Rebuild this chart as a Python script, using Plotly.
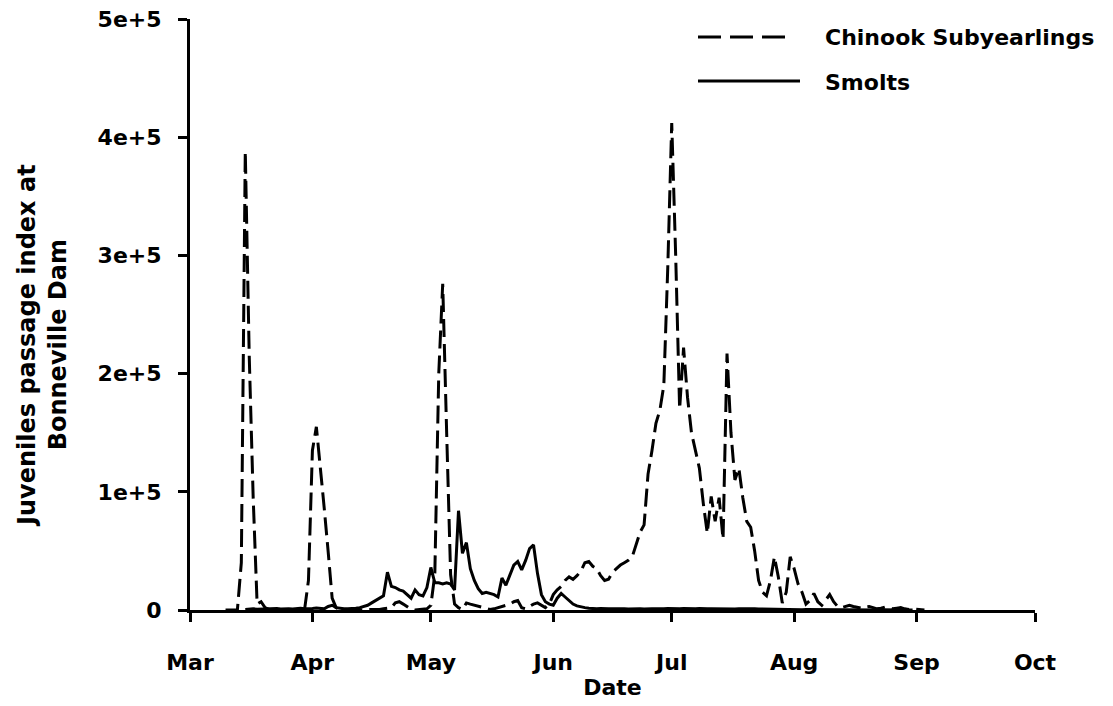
import pandas as pd
import plotly.graph_objects as go

# ---------------- data ----------------
month_ticks = ["2001-03-01", "2001-04-01", "2001-05-01", "2001-06-01",
               "2001-07-01", "2001-08-01", "2001-09-01", "2001-10-01"]
month_labels = ["Mar", "Apr", "May", "Jun", "Jul", "Aug", "Sep", "Oct"]
y_ticks = [0, 100000, 200000, 300000, 400000, 500000]
y_labels = ["0", "1e+5", "2e+5", "3e+5", "4e+5", "5e+5"]

chinook_start = "2001-03-10"
chinook = [
    # Mar 10 - Mar 31
    0, 0, 0, 0, 40000, 388000, 215000, 95000, 5000, 7000, 2000, 500,
    0, 300, 0, 500, 0, 0, 300, 0, 0, 25000,
    # Apr 1 - Apr 30
    135000, 155000, 122000, 86000, 49000, 10000, 2000, 500,
    0, 0, 300, 0, 0, 500, 0, 0, 300, 500, 1000, 1500,
    2000, 6000, 7000, 5000, 3000, 500, 0, 300, 500, 1000,
    # May 1 - May 31
    4000, 30000, 200000, 276000, 150000, 30000, 5000, 2000, 500, 6000,
    5000, 4000, 3000, 2000, 1000, 500, 1000, 2000, 3000, 4000,
    5000, 7000, 8000, 2000, 1000, 3000, 5000, 6000, 4000, 2000, 5000,
    # Jun 1 - Jun 30
    13000, 17000, 20000, 25000, 28000, 26000, 29000, 33000, 40000, 41000,
    37000, 35000, 29000, 25000, 26000, 32000, 35000, 38000, 40000, 42000,
    45000, 56000, 66000, 72000, 115000, 135000, 158000, 169000, 190000, 290000,
    # Jul 1 - Jul 31
    412000, 300000, 170000, 222000, 180000, 150000, 135000, 120000, 90000, 65000,
    96000, 75000, 95000, 60000, 217000, 150000, 110000, 120000, 95000, 75000,
    70000, 50000, 25000, 15000, 12000, 25000, 45000, 28000, 6000, 15000, 45000,
    # Aug 1 - Aug 31
    35000, 22000, 15000, 5000, 8000, 14000, 7000, 4000, 9000, 13000,
    7000, 3000, 2000, 3000, 4000, 3000, 2000, 1500, 2500, 3000,
    2000, 1000, 1500, 2500, 2000, 1000, 1500, 2000, 1000, 500, 1000,
    # Sep 1 - Sep 3
    500, 300, 0,
]

smolt_start = "2001-03-15"
smolts = [
    # Mar 15 - Apr 9
    500, 800, 1000, 700, 900, 1200, 800, 1000, 1300, 900, 1100, 1000, 800,
    1200, 1500, 1000, 900, 1300, 1600, 1200, 1000, 3000, 4000, 2000, 1200, 1000,
    # Apr 10 - Apr 30
    1000, 1000, 1500, 2000, 3000, 4000, 6000, 8000, 10000, 12000,
    32000, 20000, 19000, 17000, 16000, 13000, 10000, 17000, 13000, 12000, 19000,
    # May 1 - May 31
    36000, 23000, 23000, 22000, 23000, 22000, 17000, 84000, 48000, 57000,
    35000, 25000, 18000, 14000, 15000, 14000, 13000, 11000, 27000, 21000,
    30000, 38000, 41000, 34000, 42000, 52000, 55000, 31000, 13000, 7000, 5000,
    # Jun 1 - Jun 30
    4000, 10000, 14000, 11000, 8000, 5000, 3500, 2500, 2000, 1500,
    1200, 1000, 1300, 900, 1100, 1000, 800, 1200, 1000, 900,
    1100, 1300, 1000, 900, 1200, 1000, 1100, 800, 1000, 1200,
    # Jul 1 - Jul 31
    1000, 900, 1100, 1300, 1000, 800, 1000, 1200, 900, 1000,
    1100, 1000, 800, 900, 1200, 1000, 900, 1000, 1100, 800,
    900, 1000, 800, 700, 600, 500, 400, 500, 400, 300, 400,
    # Aug 1 - Aug 31
    300, 400, 300, 500, 400, 300, 400, 300, 200, 300,
    400, 300, 200, 300, 200, 300, 200, 100, 200, 300,
    200, 100, 200, 100, 200, 100, 100, 200, 100, 100, 100,
]

chinook_dates = pd.date_range(chinook_start, periods=len(chinook), freq="D")
smolt_dates = pd.date_range(smolt_start, periods=len(smolts), freq="D")

FONT = "DejaVu Sans"
FS = 22

fig = go.Figure()
fig.add_trace(go.Scatter(x=chinook_dates, y=chinook, mode="lines",
                         name="Chinook Subyearlings",
                         line=dict(color="black", width=3, dash="18px,7px")))
fig.add_trace(go.Scatter(x=smolt_dates, y=smolts, mode="lines",
                         name="Smolts",
                         line=dict(color="black", width=3)))

# The page body adds an 8px margin, so the figure is sized to the visible area.
OFF = 8
W, H = 1113 - OFF, 706 - OFF
L, T = 190 - OFF, 19 - OFF
PW, PH = 845, 591
R, B = W - L - PW, H - T - PH


def px(x):
    """screen pixel x -> paper x"""
    return (x - OFF - L) / PW


def py(y):
    """screen pixel y -> paper y"""
    return (T + PH - (y - OFF)) / PH


# hand-drawn legend (long line samples like the reference)
fig.add_shape(type="line", xref="paper", yref="paper",
              x0=px(698), x1=px(790), y0=py(37), y1=py(37),
              line=dict(color="black", width=3, dash="23px,9px"))
fig.add_shape(type="line", xref="paper", yref="paper",
              x0=px(698), x1=px(800), y0=py(81), y1=py(81),
              line=dict(color="black", width=3))
fig.add_annotation(xref="paper", yref="paper", x=px(823), y=py(38),
                   xanchor="left", yanchor="middle", showarrow=False,
                   text="Chinook Subyearlings",
                   font=dict(family=FONT, size=FS, color="black", weight="bold"))
fig.add_annotation(xref="paper", yref="paper", x=px(823), y=py(82),
                   xanchor="left", yanchor="middle", showarrow=False,
                   text="Smolts",
                   font=dict(family=FONT, size=FS, color="black", weight="bold"))

# y-axis title (two lines, rotated)
fig.add_annotation(xref="paper", yref="paper", x=px(42), y=py(346),
                   xanchor="center", yanchor="middle", showarrow=False,
                   textangle=-90,
                   text="Juveniles passage index at<br>Bonneville Dam",
                   font=dict(family=FONT, size=24, color="black", weight="bold"))

fig.update_layout(
    width=W, height=H,
    margin=dict(l=L, r=R, t=T, b=B, autoexpand=False),
    paper_bgcolor="white", plot_bgcolor="white",
    showlegend=False,
    font=dict(family=FONT, size=FS, color="black", weight="bold"),
    xaxis=dict(
        type="date",
        range=["2001-03-01", "2001-10-01"],
        tickvals=month_ticks, ticktext=month_labels,
        showgrid=False, zeroline=False, automargin=False,
        showline=True, linecolor="black", linewidth=3,
        ticks="outside", ticklen=9, tickwidth=3, tickcolor="black",
        ticklabelstandoff=22, ticklabeloverflow="allow",
        tickfont=dict(family=FONT, size=FS, color="black", weight="bold"),
        title=dict(text="Date", standoff=6,
                   font=dict(family=FONT, size=FS, color="black", weight="bold")),
    ),
    yaxis=dict(
        range=[0, 500000],
        tickvals=y_ticks, ticktext=y_labels,
        showgrid=False, zeroline=False, automargin=False,
        showline=True, linecolor="black", linewidth=3,
        ticks="outside", ticklen=9, tickwidth=3, tickcolor="black",
        ticklabelstandoff=12, ticklabeloverflow="allow",
        tickfont=dict(family=FONT, size=FS, color="black", weight="bold"),
    ),
)

fig.write_html("out.html")
